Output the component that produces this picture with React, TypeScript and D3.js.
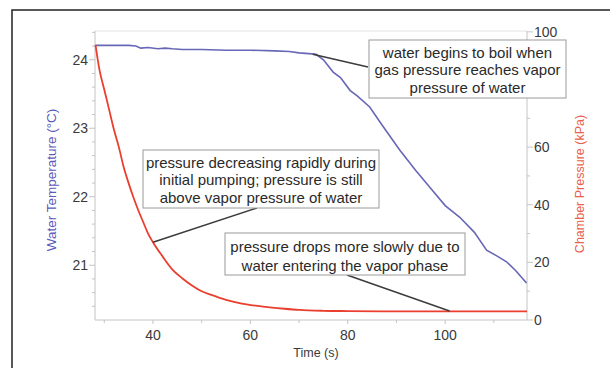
import React from "react";
import * as d3 from "d3";

const tempTime = [28.2, 30, 35, 36.5, 37.5, 39, 41, 42.5, 44, 46, 50, 55, 60, 65, 68, 70, 72, 73.5, 75, 77, 78.5, 80.5, 82, 84.5, 87, 90.7, 94, 97.4, 100, 103, 106, 108.5, 110.5, 112.6, 114.5, 116.7];
const tempValues = [24.21, 24.21, 24.21, 24.2, 24.17, 24.18, 24.16, 24.17, 24.16, 24.15, 24.15, 24.14, 24.14, 24.13, 24.12, 24.1, 24.09, 24.08, 24.0, 23.82, 23.74, 23.55, 23.47, 23.31, 23.05, 22.68, 22.38, 22.09, 21.87, 21.7, 21.48, 21.22, 21.14, 21.05, 20.92, 20.74];

const presTime = [28.2, 29, 30, 31, 32, 33, 34, 35, 36, 37, 38, 39, 40, 42, 44, 46, 48, 50, 52, 55, 58, 61, 64, 67, 70, 75, 80, 90, 100, 110, 116.8];
const presValues = [95.5, 87, 80, 73, 66, 60, 53, 47.5, 42.5, 38, 34, 30, 27, 22, 17.5, 14.5, 12, 10, 8.7, 7, 5.8, 5, 4.4, 3.9, 3.5, 3.2, 3.1, 3.0, 3.0, 3.0, 3.0];

const xTicks = [40, 60, 80, 100];
const xMinor = [30, 50, 70, 90, 110];
const tempTicks = [21, 22, 23, 24];
const presTicks = [0, 20, 40, 60, 80, 100];

const annotations = [
  { lines: ["water begins to boil when", "gas pressure reaches vapor", "pressure of water"], box: [369, 40, 197, 58], from: [368, 67], target: { t: 72.8, v: 24.08, axis: "temp" } },
  { lines: ["pressure decreasing rapidly during", "initial pumping; pressure is still", "above vapor pressure of water"], box: [143, 150, 236, 58], from: [257, 208], target: { t: 40, v: 27, axis: "pres" } },
  { lines: ["pressure drops more slowly due to", "water entering the vapor phase"], box: [225, 233, 240, 42], from: [347, 275], target: { t: 100.9, v: 3.1, axis: "pres" } },
];

const FONT = "'Liberation Sans', Arial, Helvetica, sans-serif";

export default function App() {
  const L = 95, R = 527, T = 31, B = 320;
  const x = d3.scaleLinear().domain([28.1, 116.8]).range([L, R]);
  const yT = d3.scaleLinear().domain([20.2, 24.42]).range([B, T]);
  const yP = d3.scaleLinear().domain([0, 100.3]).range([B, T]);

  const tempLine = d3.line<number>().x((_, i) => x(tempTime[i])).y((d) => yT(d));
  const presLine = d3.line<number>().x((_, i) => x(presTime[i])).y((d) => yP(d)).curve(d3.curveMonotoneX);

  const tMinor = d3.range(20.4, 24.41, 0.2).filter((v) => Math.abs(v - Math.round(v)) > 0.01);
  const pMinor = d3.range(10, 100, 20);

  const axisColor = "#c4c4c4";
  const tickText = "#3a3a3a";

  return (
    <svg width={610} height={368} style={{ position: "absolute", left: 0, top: 0, background: "#fff" }} fontFamily={FONT}>
      <rect x={12} y={10} width={620} height={380} fill="#fff" stroke="#222" strokeWidth={1.5} />
      {/* plot frame */}
      <line x1={L} x2={R} y1={T} y2={T} stroke="#e2e2e2" />
      <line x1={L} x2={L} y1={T} y2={B} stroke={axisColor} />
      <line x1={R} x2={R} y1={T} y2={B} stroke={axisColor} />
      <line x1={L} x2={R} y1={B} y2={B} stroke={axisColor} />

      {/* x ticks */}
      {xTicks.map((t) => (
        <g key={"x" + t}>
          <line x1={x(t)} x2={x(t)} y1={B} y2={B + 4} stroke={axisColor} />
          <text x={x(t)} y={340} textAnchor="middle" fontSize={14} fill={tickText}>{t}</text>
        </g>
      ))}
      {xMinor.map((t) => (
        <line key={"xm" + t} x1={x(t)} x2={x(t)} y1={B} y2={B + 3} stroke={axisColor} />
      ))}
      <text x={316} y={357} textAnchor="middle" fontSize={12.5} fill={tickText}>Time (s)</text>

      {/* left ticks */}
      {tempTicks.map((v) => (
        <g key={"t" + v}>
          <line x1={L - 6} x2={L} y1={yT(v)} y2={yT(v)} stroke={axisColor} />
          <text x={L - 7} y={yT(v) + 5} textAnchor="end" fontSize={14} fill={tickText}>{v}</text>
        </g>
      ))}
      {tMinor.map((v) => (
        <line key={"tm" + v.toFixed(1)} x1={L - 3} x2={L} y1={yT(v)} y2={yT(v)} stroke={axisColor} />
      ))}
      <text transform={`translate(56,180) rotate(-90)`} textAnchor="middle" fontSize={13.5} fill="#5a5ab8">Water Temperature (°C)</text>

      {/* right ticks */}
      {presTicks.map((v) => (
        <g key={"p" + v}>
          <line x1={R} x2={R + 6} y1={yP(v)} y2={yP(v)} stroke={axisColor} />
          <text x={R + 7} y={yP(v) + 5} textAnchor="start" fontSize={14} fill={tickText}>{v}</text>
        </g>
      ))}
      {pMinor.map((v) => (
        <line key={"pm" + v} x1={R} x2={R + 3} y1={yP(v)} y2={yP(v)} stroke={axisColor} />
      ))}
      <text transform={`translate(584,184) rotate(-90)`} textAnchor="middle" fontSize={12.5} fill="#e8604e">Chamber Pressure (kPa)</text>

      {/* data */}
      <path d={tempLine(tempValues) || ""} fill="none" stroke="#6767b6" strokeWidth={1.6} />
      <path d={presLine(presValues) || ""} fill="none" stroke="#ea3f2f" strokeWidth={1.8} />

      {/* annotations */}
      {annotations.map((a, i) => {
        const [bx, by, bw, bh] = a.box;
        const tx = x(a.target.t);
        const ty = a.target.axis === "temp" ? yT(a.target.v) : yP(a.target.v);
        const lh = a.lines.length === 3 ? 17.8 : 19;
        const first = a.lines.length === 3 ? 17.5 : 19;
        return (
          <g key={"a" + i}>
            <line x1={a.from[0]} y1={a.from[1]} x2={tx} y2={ty} stroke="#3c3c3c" strokeWidth={1.5} />
            <rect x={bx} y={by} width={bw} height={bh} fill="#fff" stroke="#9a9a9a" strokeWidth={1} />
            {a.lines.map((ln, j) => (
              <text key={j} x={bx + bw / 2} y={by + first + j * lh} textAnchor="middle" fontSize={15} fill="#2a2a2a">{ln}</text>
            ))}
          </g>
        );
      })}
    </svg>
  );
}
